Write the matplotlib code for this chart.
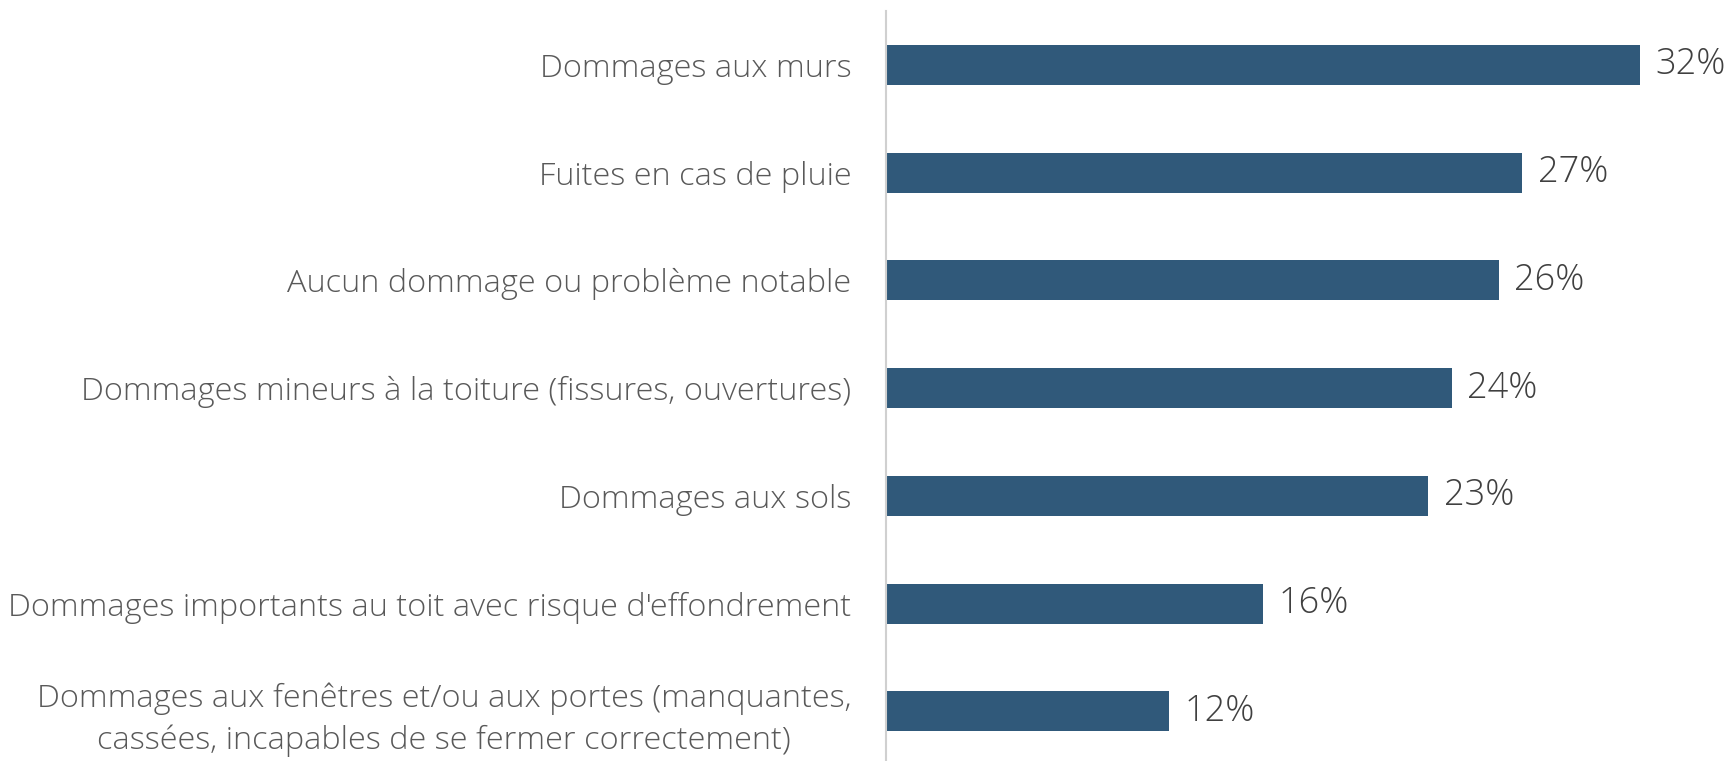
import matplotlib.pyplot as plt

categories = [
    "Dommages aux murs",
    "Fuites en cas de pluie",
    "Aucun dommage ou problème notable",
    "Dommages mineurs à la toiture (fissures, ouvertures)",
    "Dommages aux sols",
    "Dommages importants au toit avec risque d'effondrement",
    "Dommages aux fenêtres et/ou aux portes (manquantes,\ncassées, incapables de se fermer correctement)",
]
values = [32, 27, 26, 24, 23, 16, 12]

plt.rcParams['font.family'] = ['Open Sans', 'DejaVu Sans']

fig = plt.figure(figsize=(17.31, 7.61), dpi=100)
ax = fig.add_axes([0.512, 0.0, 0.488, 0.9855])

pos = list(range(len(categories)))
ax.barh(pos, values, height=0.37, color='#30597a')

for p, v in zip(pos, values):
    ax.text(v + 0.65, p, f"{v}%", va='center', ha='left', fontsize=26,
            fontweight='light', color='#404040')

ax.set_yticks(pos)
ax.set_yticklabels(categories, fontsize=23.4, fontweight='light', color='#595959')
for lbl in ax.get_yticklabels():
    lbl.set_multialignment('center')
    lbl.set_linespacing(1.35)
ax.tick_params(axis='y', length=0, pad=25)

ax.set_xlim(0, 35.85)
ax.set_ylim(6.46, -0.5)
ax.set_xticks([])
for s in ['top', 'right', 'bottom']:
    ax.spines[s].set_visible(False)
ax.spines['left'].set_color('#d0d0d0')
ax.spines['left'].set_linewidth(1.5)

fig.savefig('out.png', dpi=100)
